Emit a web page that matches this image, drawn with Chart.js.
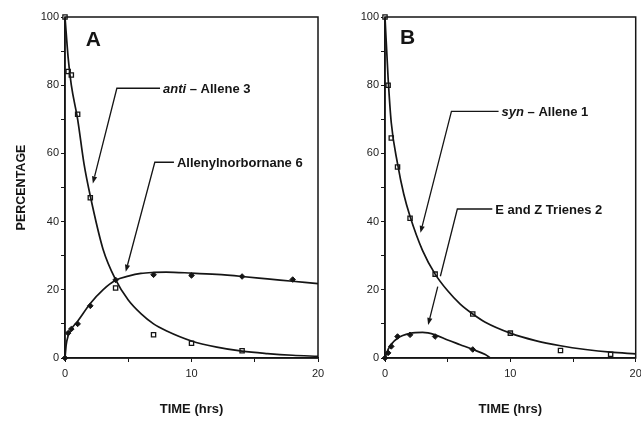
<!DOCTYPE html>
<html>
<head>
<meta charset="UTF-8">
<title>Kinetics A / B</title>
<script src="https://cdn.jsdelivr.net/npm/chart.js"></script>
<style>
  body { margin: 0; background: #fff; }
  #wrap { position: relative; width: 641px; height: 423px; overflow: hidden; }
  canvas { position: absolute; top: 0; }
  #cA { left: 0; }
  #cB { left: 322px; }
</style>
</head>
<body>
<div id="wrap">
  <canvas id="cA" width="335" height="423"></canvas>
  <canvas id="cB" width="319" height="423"></canvas>
</div>
<script>
// panel A: measured points
const antiT = [0, 0.25, 0.5, 1, 2, 4, 7, 10, 14];
const antiPct = [100, 84, 83, 71.5, 47, 20.5, 6.8, 4.3, 2.1];
const norbT = [0, 0.25, 0.5, 1, 2, 4, 7, 10, 14, 18];
const norbPct = [0, 7.3, 8.5, 10, 15.3, 22.9, 24.4, 24.2, 23.9, 23];
// panel A: fitted curves
const antiFitT = [0, 0.25, 0.5, 1, 1.5, 2, 3, 4, 5, 6, 7, 8, 10, 12, 14, 16, 18, 20];
const antiFitPct = [100, 88, 80, 70, 57, 47.5, 32, 23, 17, 13, 10, 8, 5, 3.2, 2, 1.3, 0.8, 0.5];
const norbFitT = [0, 0.1, 0.25, 0.5, 1, 2, 3, 4, 5, 6, 7, 8, 10, 12, 14, 16, 18, 20];
const norbFitPct = [0, 4, 6.5, 8.5, 10.8, 16, 20, 22.8, 24, 24.8, 25.1, 25.2, 24.9, 24.5, 23.9, 23.2, 22.5, 21.8];

// panel B: measured points
const synT = [0, 0.25, 0.5, 1, 2, 4, 7, 10, 14, 18];
const synPct = [100, 80, 64.5, 56, 41, 24.6, 12.9, 7.3, 2.2, 1.1];
const trieneT = [0, 0.25, 0.5, 1, 2, 4, 7];
const trienePct = [0, 1.5, 3.4, 6.3, 6.8, 6.3, 2.5];
// panel B: fitted curves
const synFitT = [0, 0.25, 0.5, 1, 1.5, 2, 3, 4, 5, 6, 7, 8, 10, 12, 14, 16, 18, 20];
const synFitPct = [100, 82, 69, 57, 48, 41.5, 31.5, 24.6, 19.7, 15.8, 12.9, 10.5, 7.3, 5.1, 3.6, 2.5, 1.7, 1.2];
const trieneFitT = [0, 0.25, 0.5, 1, 2, 3, 4, 5, 6, 7, 8, 8.4];
const trieneFitPct = [0, 2.5, 4, 5.8, 7.2, 7.5, 6.8, 5.3, 3.9, 2.5, 1.0, 0];

const xTicks = [0, 10, 20];
const yTicks = [0, 20, 40, 60, 80, 100];

const FAM = '"Liberation Sans", Arial, sans-serif';
const INK = '#151515';

const pts = (xs, ys) => xs.map((x, i) => ({ x: x, y: ys[i] }));

function fitLine(xs, ys) {
  return { data: pts(xs, ys), showLine: true, pointRadius: 0, borderColor: INK,
           borderWidth: 1.7, cubicInterpolationMode: 'monotone', clip: 2 };
}
function squares(xs, ys) {
  return { data: pts(xs, ys), pointStyle: 'rect', pointRadius: 3, borderWidth: 1.3,
           borderColor: INK, backgroundColor: '#fff', clip: false };
}
function dots(xs, ys) {
  return { data: pts(xs, ys), pointStyle: 'rectRot', pointRadius: 2.8, borderWidth: 1,
           borderColor: INK, backgroundColor: INK, clip: false };
}

// frame, panel letter and arrow labels, placed in data units
const notes = {
  id: 'notes',
  afterDatasetsDraw(chart, args, o) {
    const { ctx, chartArea: a } = chart;
    const sx = chart.scales.x, sy = chart.scales.y;
    const X = v => sx.getPixelForValue(v), Y = v => sy.getPixelForValue(v);
    ctx.save();
    ctx.strokeStyle = INK;
    ctx.lineWidth = 1.5;
    ctx.strokeRect(a.left, a.top, a.right - a.left, a.bottom - a.top);

    ctx.fillStyle = INK;
    ctx.textBaseline = 'alphabetic';
    ctx.font = 'bold 21px ' + FAM;
    ctx.fillText(o.letter, X(o.letterAt[0]), Y(o.letterAt[1]));

    o.items.forEach(n => {
      const tx = X(n.textAt), cx = X(n.corner[0]), cy = Y(n.corner[1]);
      const px = X(n.tip[0]), py = Y(n.tip[1]);
      let dx = px - cx, dy = py - cy;
      const len = Math.hypot(dx, dy);
      dx /= len; dy /= len;
      const bx = px - dx * 7, by = py - dy * 7;
      ctx.lineWidth = 1.3;
      ctx.beginPath();
      ctx.moveTo(tx - 3, cy);
      ctx.lineTo(cx, cy);
      if (n.gap) {
        ctx.lineTo(cx + (px - cx) * n.gap[0], cy + (py - cy) * n.gap[0]);
        ctx.moveTo(cx + (px - cx) * n.gap[1], cy + (py - cy) * n.gap[1]);
      }
      ctx.lineTo(bx, by);
      ctx.stroke();
      ctx.beginPath();
      ctx.moveTo(px, py);
      ctx.lineTo(bx - dy * 2.6, by + dx * 2.6);
      ctx.lineTo(bx + dy * 2.6, by - dx * 2.6);
      ctx.closePath();
      ctx.fill();

      ctx.textBaseline = 'middle';
      let x = tx;
      n.text.forEach(p => {
        ctx.font = (p.italic ? 'italic ' : '') + 'bold 13px ' + FAM;
        ctx.fillText(p.t, x, cy + 1);
        x += ctx.measureText(p.t).width;
      });
    });
    ctx.restore();
  }
};

function scales(yWidth, yTitle) {
  return {
    x: {
      type: 'linear', min: 0, max: 20,
      afterFit(s) { s.height = 65; s.paddingLeft = 0; s.paddingRight = 0; },
      afterBuildTicks(s) { s.ticks = [0, 5, 10, 15, 20].map(v => ({ value: v })); },
      ticks: { autoSkip: false, maxRotation: 0, padding: 5, color: '#222',
               font: { size: 11, family: FAM },
               callback: v => xTicks.includes(v) ? String(v) : '' },
      grid: { drawOnChartArea: false, tickLength: 4, color: INK },
      border: { color: INK, width: 1.5 },
      title: { display: true, text: 'TIME (hrs)', color: INK, padding: { top: 0, bottom: 6 },
               font: { size: 13, weight: 'bold', family: FAM } }
    },
    y: {
      min: 0, max: 100,
      afterFit(s) { s.width = yWidth; s.paddingTop = 0; s.paddingBottom = 0; },
      afterBuildTicks(s) { s.ticks = [0, 10, 20, 30, 40, 50, 60, 70, 80, 90, 100].map(v => ({ value: v })); },
      ticks: { autoSkip: false, padding: 2, color: '#222', font: { size: 11, family: FAM },
               callback: v => yTicks.includes(v) ? String(v) : '' },
      grid: { drawOnChartArea: false, tickLength: 4, color: INK },
      border: { color: INK, width: 1.5 },
      title: { display: !!yTitle, text: yTitle || '', color: INK, padding: 0,
               font: { size: 12.5, weight: 'bold', family: FAM } }
    }
  };
}

const common = { responsive: false, animation: false, devicePixelRatio: 1 };

new Chart(document.getElementById('cA'), {
  type: 'scatter',
  data: { datasets: [
    fitLine(antiFitT, antiFitPct), fitLine(norbFitT, norbFitPct),
    squares(antiT, antiPct), dots(norbT, norbPct)
  ] },
  options: Object.assign({}, common, {
    layout: { padding: { left: 14, top: 17, right: 17, bottom: 0 } },
    scales: scales(51, 'PERCENTAGE'),
    plugins: {
      legend: { display: false }, tooltip: { enabled: false },
      notes: {
        letter: 'A', letterAt: [1.65, 91.5],
        items: [
          { text: [{ t: 'anti', italic: true }, { t: ' \u2013 Allene 3' }],
            textAt: 7.75, corner: [4.1, 79.1], tip: [2.2, 51.2] },
          { text: [{ t: 'Allenylnorbornane 6' }],
            textAt: 8.85, corner: [7.1, 57.4], tip: [4.8, 25.3] }
        ]
      }
    }
  }),
  plugins: [notes]
});

new Chart(document.getElementById('cB'), {
  type: 'scatter',
  data: { datasets: [
    fitLine(synFitT, synFitPct), fitLine(trieneFitT, trieneFitPct),
    squares(synT, synPct), dots(trieneT, trienePct)
  ] },
  options: Object.assign({}, common, {
    layout: { padding: { left: 0, top: 17, right: 4, bottom: 0 } },
    scales: scales(63, null),
    plugins: {
      legend: { display: false }, tooltip: { enabled: false },
      notes: {
        letter: 'B', letterAt: [1.2, 92],
        items: [
          { text: [{ t: 'syn', italic: true }, { t: ' \u2013 Allene 1' }],
            textAt: 9.3, corner: [5.3, 72.3], tip: [2.83, 36.7] },
          { text: [{ t: 'E and Z Trienes 2' }],
            textAt: 8.8, corner: [5.77, 43.7], tip: [3.44, 9.7], gap: [0.58, 0.67] }
        ]
      }
    }
  }),
  plugins: [notes]
});
</script>
</body>
</html>
